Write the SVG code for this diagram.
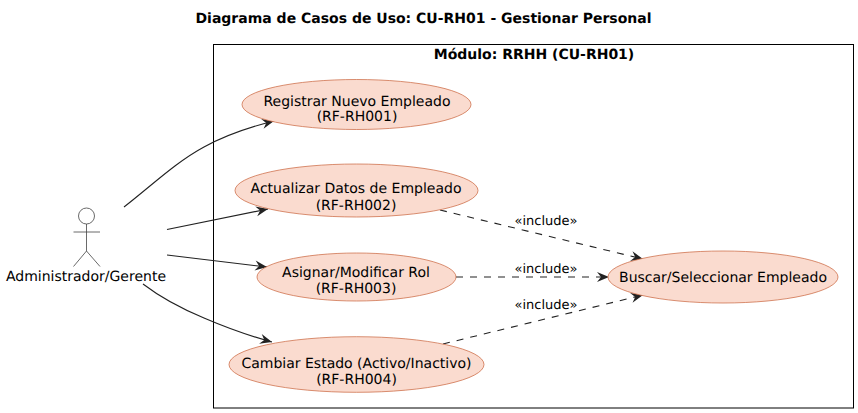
<svg xmlns="http://www.w3.org/2000/svg" width="858" height="413" viewBox="0 0 858 413">
<style>
text{font-family:"DejaVu Sans",sans-serif;font-size:14px;fill:#000;text-anchor:middle;text-rendering:geometricPrecision}
.b{font-weight:bold}
.l{font-size:13px}
.uc{fill:#FADBCF;stroke:#C8623A;stroke-width:.7}
.c{fill:none;stroke:#222;stroke-width:1.1}
.d{stroke-dasharray:7 7}
.a{fill:none;stroke:#444;stroke-width:.8}
</style>
<defs>
<marker id="arr" markerUnits="userSpaceOnUse" markerWidth="16" markerHeight="14" refX="12" refY="6" orient="auto" overflow="visible">
<path d="M0 1L12 6L0 11L4 6Z" fill="#222"/>
</marker>
</defs>
<rect width="858" height="413" fill="#fff"/>
<text class="b" x="423.500" y="23">Diagrama de Casos de Uso: CU-RH01 - Gestionar Personal</text>
<g id="system">
<rect x="213.500" y="44.500" width="640" height="363.500" fill="none" stroke="#000" stroke-width="1"/>
<text class="b" x="534" y="59">Módulo: RRHH (CU-RH01)</text>
</g>
<g id="connectors">
<path class="c" marker-end="url(#arr)" d="M124 207C150 187 176 162 204 147C226 135 250 127 274 121"/>
<path class="c" marker-end="url(#arr)" d="M167 229.500L268 209"/>
<path class="c" marker-end="url(#arr)" d="M167 255L267 267"/>
<path class="c" marker-end="url(#arr)" d="M143 284C160 297 180 308 204 318C225 327 250 336 272 342"/>
<path class="c d" marker-end="url(#arr)" d="M440 210L643 259"/>
<path class="c d" marker-end="url(#arr)" d="M456 277H609"/>
<path class="c d" marker-end="url(#arr)" d="M443 344L643 295"/>
<text class="l" x="546" y="225">«include»</text>
<text class="l" x="546" y="273">«include»</text>
<text class="l" x="546" y="309">«include»</text>
</g>
<g id="actor">
<circle cx="86.500" cy="216" r="8" fill="none" stroke="#444" stroke-width=".8"/>
<path class="a" d="M86.500 224V251M73.500 232H100M86.500 251L73.500 266.500M86.500 251L100 266.500"/>
<text x="86" y="281">Administrador/Gerente</text>
</g>
<g id="uc1">
<ellipse class="uc" cx="356.500" cy="104.500" rx="114.500" ry="25"/>
<text x="357" y="105.500">Registrar Nuevo Empleado</text>
<text x="357" y="121">(RF-RH001)</text>
</g>
<g id="uc2">
<ellipse class="uc" cx="356.500" cy="190.500" rx="121.500" ry="26.500"/>
<text x="356" y="193">Actualizar Datos de Empleado</text>
<text x="356" y="209.500">(RF-RH002)</text>
</g>
<g id="uc3">
<ellipse class="uc" cx="356.500" cy="277" rx="99.500" ry="24"/>
<text x="356" y="277">Asignar/Modificar Rol</text>
<text x="356" y="293">(RF-RH003)</text>
</g>
<g id="uc4">
<ellipse class="uc" cx="356.500" cy="364.500" rx="127.500" ry="27.800"/>
<text x="356.500" y="368">Cambiar Estado (Activo/Inactivo)</text>
<text x="356.500" y="384">(RF-RH004)</text>
</g>
<g id="uc5">
<ellipse class="uc" cx="723" cy="277" rx="115" ry="26"/>
<text x="723" y="282">Buscar/Seleccionar Empleado</text>
</g>
</svg>
